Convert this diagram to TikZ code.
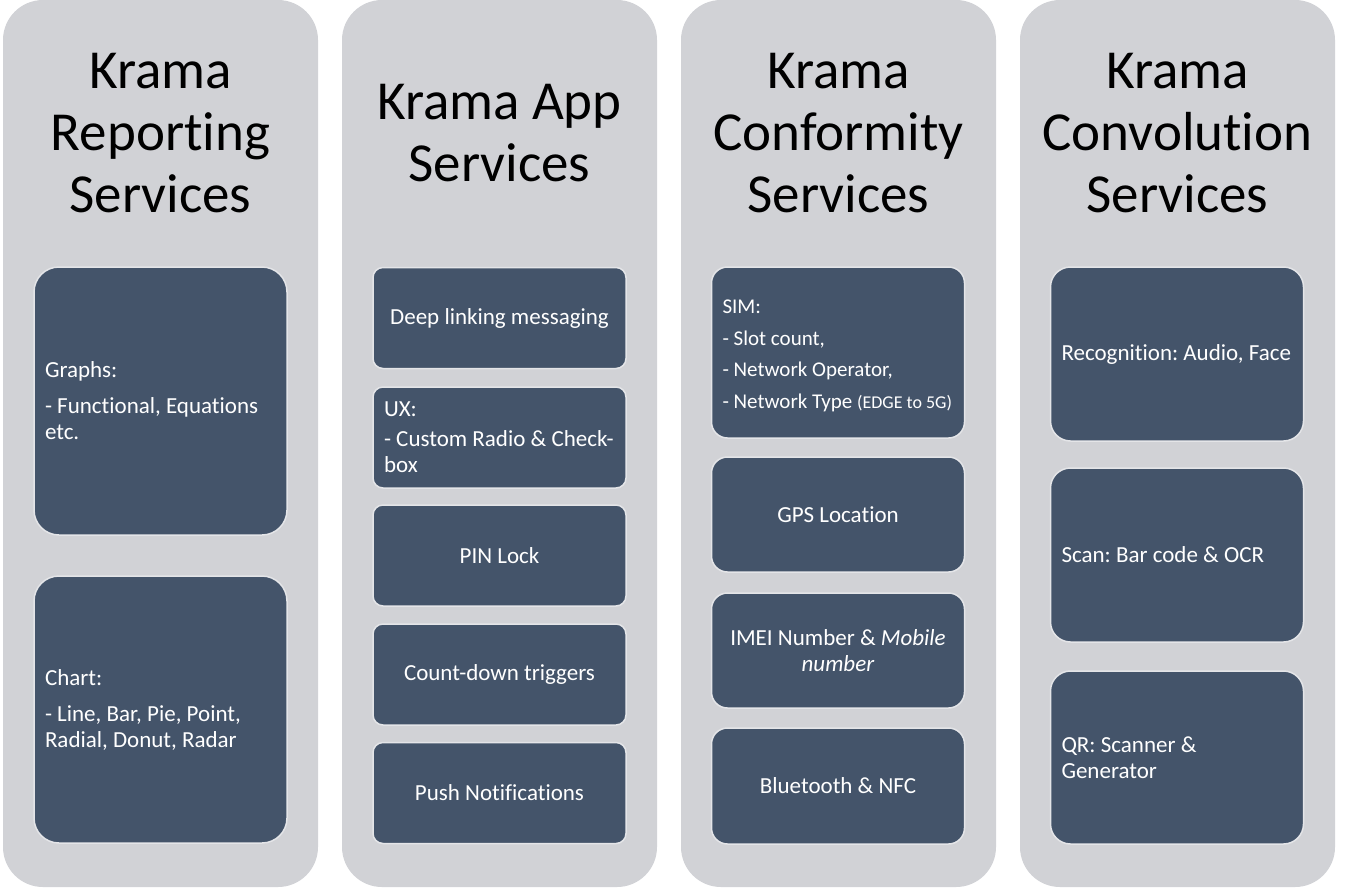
\documentclass[tikz,border=0pt]{standalone}
\usepackage{fontspec}
\setmainfont{Carlito}[Ligatures=CommonOff]
\usetikzlibrary{positioning}
\definecolor{colgray}{HTML}{D1D2D6}
\definecolor{cardblue}{HTML}{44546A}
\definecolor{cardrim}{HTML}{E4E5E8}
\newcommand{\smallnote}[1]{{\fontsize{18}{20}\selectfont #1}}
\frenchspacing

\begin{document}
\begin{tikzpicture}[x=1pt,y=-1pt,
    column/.style={fill=colgray, rounded corners=40pt, minimum width=315pt, minimum height=887pt, inner sep=0pt},
    heading/.style={font=\fontsize{55}{62}\selectfont, align=center, inner sep=0pt},
    card/.style={fill=cardblue, draw=cardrim, line width=1.5pt, text=white, font=\fontsize{23}{26}\selectfont,
                 inner xsep=11pt, inner ysep=0pt, text width=231pt, minimum width=253pt}]
    \useasboundingbox (0,0) rectangle (1362,887);

    % the four service columns
    \node[column] (rep) at (160.5,443.5) {};
    \node[column] (app) at (499.5,443.5) {};
    \node[column] (conf) at (838.5,443.5) {};
    \node[column] (conv) at (1177.5,443.5) {};

    \node[heading] (rep_title) at (160.5,133) {Krama\\Reporting\\Services};
    \node[heading] (app_title) at (499.5,133) {Krama App\\Services};
    \node[heading] (conf_title) at (838.5,133) {Krama\\Conformity\\Services};
    \node[heading] (conv_title) at (1177.5,133) {Krama\\Convolution\\Services};

    % reporting
    \node[card, rounded corners=25pt, align=flush left, minimum height=268pt] (graphs) at (160.5,401) {Graphs:\\[10pt]\mbox{- Functional, Equations}\\etc.};
    \node[card, rounded corners=25pt, align=flush left, minimum height=267pt] (chart) at (160.5,709.5) {Chart:\\[10pt]\mbox{- Line, Bar, Pie, Point,}\\\mbox{Radial, Donut, Radar}};

    % app
    \node[card, rounded corners=10pt, align=flush center, minimum height=101pt] (deep) at (499.5,318) {Deep linking messaging};
    \node[card, rounded corners=10pt, align=flush left, minimum height=101pt] (ux) at (499.5,437.5) {UX:\\[4pt]\mbox{- Custom Radio \& Check-}\\box};
    \node[card, rounded corners=10pt, align=flush center, minimum height=101pt] (pin) at (499.5,555.5) {PIN Lock};
    \node[card, rounded corners=10pt, align=flush center, minimum height=101pt] (count) at (499.5,674.5) {Count-down triggers};
    \node[card, rounded corners=10pt, align=flush center, minimum height=101pt] (push) at (499.5,793) {Push Notifications};

    % conformity
    \node[card, rounded corners=16pt, align=flush left, minimum height=171pt, font=\fontsize{21}{24}\selectfont] (sim) at (838,352.5) {\rule{0pt}{20.5pt}SIM:\\[7.5pt]- Slot count,\\[7.5pt]- Network Operator,\\[7.5pt]\mbox{- Network Type \smallnote{(EDGE to 5G)}}};
    \node[card, rounded corners=16pt, align=flush center, minimum height=115pt] (gps) at (838,514.5) {GPS Location};
    \node[card, rounded corners=16pt, align=flush center, minimum height=115pt] (imei) at (838,650.5) {IMEI Number \& \textit{Mobile}\\\textit{number}};
    \node[card, rounded corners=16pt, align=flush center, minimum height=116pt] (bt) at (838,786) {Bluetooth \& NFC};

    % convolution
    \node[card, rounded corners=20pt, align=flush left, minimum height=174pt] (recog) at (1177,354) {\mbox{Recognition: Audio, Face}};
    \node[card, rounded corners=20pt, align=flush left, minimum height=174pt] (scan) at (1177,555) {Scan: Bar code \& OCR};
    \node[card, rounded corners=20pt, align=flush left, minimum height=173pt] (qr) at (1177,757.5) {QR: Scanner \&\\Generator};
\end{tikzpicture}
\end{document}
